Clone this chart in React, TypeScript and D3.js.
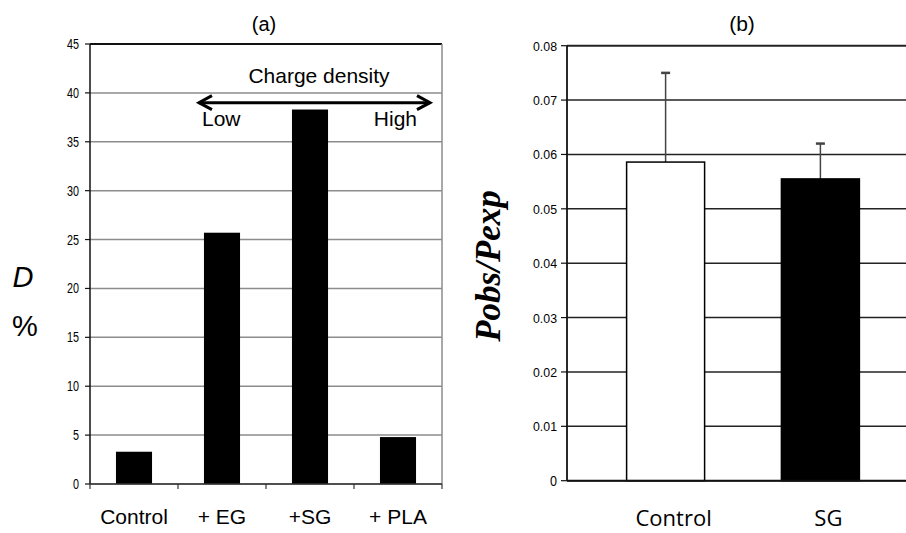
import React from 'react';
import * as d3 from 'd3';

// panel (a)
const catsA = ['Control', '+ EG', '+SG', '+ PLA'];
const valsA = [3.3, 25.7, 38.3, 4.8];
const ticksA = [0, 5, 10, 15, 20, 25, 30, 35, 40, 45];

// panel (b)
const catsB = ['Control', 'SG'];
const valsB = [0.0586, 0.0555];
const errB = [0.0164, 0.0065];
const fillsB = ['#ffffff', '#000000'];
const ticksB = [0, 0.01, 0.02, 0.03, 0.04, 0.05, 0.06, 0.07, 0.08];

const W = 906;
const H = 533;
const sans = 'Liberation Sans, Arial, sans-serif';

export default function App() {
  const xA = d3.scaleBand().domain(catsA).range([90, 442]);
  const yA = d3.scaleLinear().domain([0, 45]).range([484, 44]);
  const barWA = xA.bandwidth() * 0.41;
  const boundsA = catsA.map(c => xA(c) as number).concat([xA.range()[1]]);

  const xB = d3.scalePoint().domain(catsB).range([567, 919]).padding(0.637);
  const yB = d3.scaleLinear().domain([0, 0.08]).range([480.7, 45.7]);
  const barWB = 78;
  const fmtB = (d: number) => (d === 0 ? '0' : d3.format('.2f')(d));

  // arrow annotation, placed in data units
  const arrowY = yA(39);
  const arrowX1 = (xA('+ EG') as number) + xA.bandwidth() * 0.5 - barWA / 2 - 5;
  const arrowX2 = xA.range()[1] - 12;

  return (
    <svg width={W} height={H} style={{ position: 'absolute', left: 0, top: 0, background: '#fff' }}>
      <rect x={0} y={0} width={W} height={H} fill="#fff" />

      {/* ---------- panel (a) ---------- */}
      <g fontFamily={sans}>
        <text x={264} y={31} fontSize={20} textAnchor="middle">(a)</text>
        {ticksA.map(t => (
          <line key={'ga' + t} x1={90} x2={442} y1={yA(t)} y2={yA(t)}
            stroke={t === 45 ? '#111' : '#8c8c8c'} strokeWidth={t === 45 ? 2 : 1.5} />
        ))}
        <line x1={442} x2={442} y1={yA(45)} y2={yA(0)} stroke="#8c8c8c" strokeWidth={1.5} />
        {catsA.map((c, i) => (
          <rect key={'ba' + c} x={(xA(c) as number) + xA.bandwidth() / 2 - barWA / 2}
            y={yA(valsA[i])} width={barWA} height={yA(0) - yA(valsA[i])} fill="#000" />
        ))}
        <line x1={90} x2={90} y1={yA(45)} y2={yA(0)} stroke="#111" strokeWidth={1.5} />
        <line x1={90} x2={442} y1={yA(0)} y2={yA(0)} stroke="#333" strokeWidth={1.5} />
        {ticksA.map(t => (
          <g key={'ta' + t}>
            <line x1={85} x2={90} y1={yA(t)} y2={yA(t)} stroke="#111" strokeWidth={1.2} />
            <text x={79} y={yA(t) + 5} fontSize={15} textAnchor="end"
              textLength={String(t).length * 6} lengthAdjust="spacingAndGlyphs">{t}</text>
          </g>
        ))}
        {boundsA.map((b, i) => (
          <line key={'xt' + i} x1={b} x2={b} y1={yA(0)} y2={yA(0) + 5} stroke="#333" strokeWidth={1.2} />
        ))}
        {catsA.map(c => (
          <text key={'la' + c} x={(xA(c) as number) + xA.bandwidth() / 2} y={524}
            fontSize={21} textAnchor="middle">{c}</text>
        ))}

        {/* charge density arrow */}
        <text x={319} y={83} fontSize={21} textAnchor="middle">Charge density</text>
        <line x1={arrowX1} x2={arrowX2} y1={arrowY} y2={arrowY} stroke="#000" strokeWidth={3} />
        <path d={`M${arrowX1 + 13},${arrowY - 7} L${arrowX1},${arrowY} L${arrowX1 + 13},${arrowY + 7}`}
          fill="none" stroke="#000" strokeWidth={3} />
        <path d={`M${arrowX2 - 13},${arrowY - 7} L${arrowX2},${arrowY} L${arrowX2 - 13},${arrowY + 7}`}
          fill="none" stroke="#000" strokeWidth={3} />
        <text x={202} y={126} fontSize={21}>Low</text>
        <text x={417} y={126} fontSize={21} textAnchor="end">High</text>

        <text x={23} y={287} fontSize={29} fontStyle="italic" textAnchor="middle">D</text>
        <text x={25} y={336} fontSize={29} textAnchor="middle">%</text>
      </g>

      {/* ---------- panel (b) ---------- */}
      <g fontFamily={sans}>
        <text x={742} y={31} fontSize={21} textAnchor="middle">(b)</text>
        {ticksB.map(t => (
          <line key={'gb' + t} x1={567} x2={W} y1={yB(t)} y2={yB(t)} stroke="#222" strokeWidth={t === 0.08 ? 2 : 1.5} />
        ))}
        {catsB.map((c, i) => (
          <g key={'bb' + c}>
            <line x1={xB(c) as number} x2={xB(c) as number} y1={yB(valsB[i])} y2={yB(valsB[i] + errB[i])}
              stroke="#444" strokeWidth={1.5} />
            <line x1={(xB(c) as number) - 4.5} x2={(xB(c) as number) + 4.5}
              y1={yB(valsB[i] + errB[i])} y2={yB(valsB[i] + errB[i])} stroke="#444" strokeWidth={2.5} />
            <rect x={(xB(c) as number) - barWB / 2} y={yB(valsB[i])} width={barWB}
              height={yB(0) - yB(valsB[i])} fill={fillsB[i]} stroke="#000" strokeWidth={1.5} />
          </g>
        ))}
        <line x1={567} x2={567} y1={yB(0.08)} y2={yB(0)} stroke="#111" strokeWidth={1.8} />
        <line x1={567} x2={W} y1={yB(0)} y2={yB(0)} stroke="#111" strokeWidth={2} />
        {ticksB.map(t => (
          <g key={'tb' + t}>
            <line x1={561} x2={567} y1={yB(t)} y2={yB(t)} stroke="#111" strokeWidth={1.2} />
            <text x={557} y={yB(t) + 5} fontSize={t === 0 ? 15 : 13} textAnchor="end"
              textLength={t === 0 ? 7 : 24} lengthAdjust="spacingAndGlyphs">{fmtB(t)}</text>
          </g>
        ))}
        {catsB.map(c => (
          <text key={'lb' + c} x={(xB(c) as number) + 8} y={526}
            fontFamily="Open Sans, Noto Sans, sans-serif" fontSize={22} textAnchor="middle">{c}</text>
        ))}
        <text transform="translate(500,266) rotate(-90)" fontFamily="Liberation Serif, Times New Roman, serif"
          fontSize={35} fontWeight="bold" fontStyle="italic" textAnchor="middle">Pobs/Pexp</text>
      </g>
    </svg>
  );
}
